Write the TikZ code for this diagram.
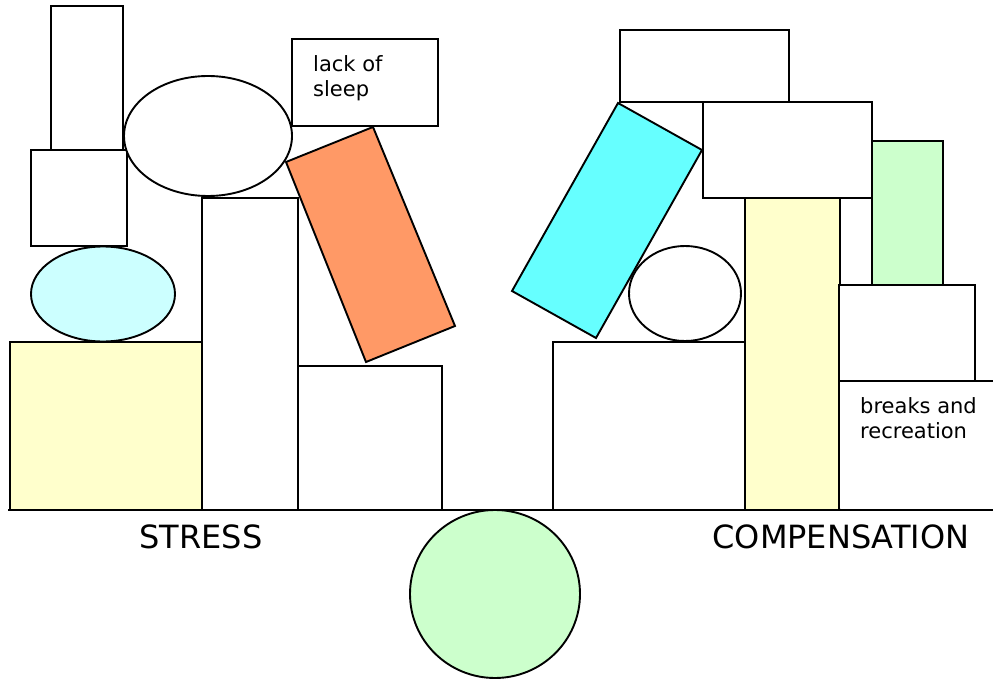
\documentclass[tikz,border=0pt]{standalone}
\usepackage{fontspec}
\setmainfont{DejaVu Sans}
\definecolor{paleyellow}{HTML}{FFFFCC}
\definecolor{palecyan}{HTML}{CCFFFF}
\definecolor{palegreen}{HTML}{CCFFCC}
\definecolor{cyanblock}{HTML}{66FFFF}
\definecolor{orangeblock}{HTML}{FF9966}
\begin{document}
\begin{tikzpicture}[x=1pt,y=-1pt,line join=miter,
  blk/.style={draw=black,line width=1.9pt,fill=white},
  small/.style={font=\fontsize{21}{25}\selectfont,anchor=base west,inner sep=0pt,align=left},
  big/.style={font=\fontsize{32}{38}\selectfont,anchor=base,inner sep=0pt}]
\useasboundingbox (0,0) rectangle (993,679);
% ---------- left (stress) ----------
\draw[blk] (51,6) rectangle (123,150);
\draw[blk] (31,150) rectangle (127,246);
\draw[blk,fill=palecyan] (103,294) ellipse [x radius=72,y radius=47.5];
\draw[blk,fill=paleyellow] (10,342) rectangle (202,510);
\draw[blk] (208,136) ellipse [x radius=84,y radius=60];
\draw[blk] (202,198) rectangle (298,510);
\draw[blk] (292,39) rectangle (438,126);
\node[small] (lack) at (313,97) {lack of\\sleep};
\draw[blk] (298,366) rectangle (442,510);
\draw[blk,fill=orangeblock] (286,162) -- (373,127) -- (455,326) -- (366,362) -- cycle;
% ---------- right (compensation) ----------
\draw[blk] (620,30) rectangle (789,102);
\draw[blk] (703,102) rectangle (872,198);
\draw[blk,fill=palegreen] (872,141) rectangle (943,285);
\draw[blk] (553,342) rectangle (745,510);
\draw[blk] (685,293.5) ellipse [x radius=56,y radius=47.5];
\draw[blk,fill=cyanblock] (618,103) -- (702,150) -- (596,338) -- (512,291) -- cycle;
\draw[blk,fill=paleyellow] (745,198) rectangle (840,510);
\draw[blk] (839,285) rectangle (975,381);
\draw[blk] (993,381) -- (839,381) -- (839,510);
\node[small] (breaks) at (860,438) {breaks and\\recreation};
% ---------- ground and pivot ----------
\draw[line width=1.9pt] (8,510) -- (993,510);
\draw[blk,fill=palegreen] (495,594) ellipse [x radius=85,y radius=84];
\node[big] (stress) at (201,548) {STRESS};
\node[big] (comp) at (841,548) {COMPENSATION};
\end{tikzpicture}
\end{document}
